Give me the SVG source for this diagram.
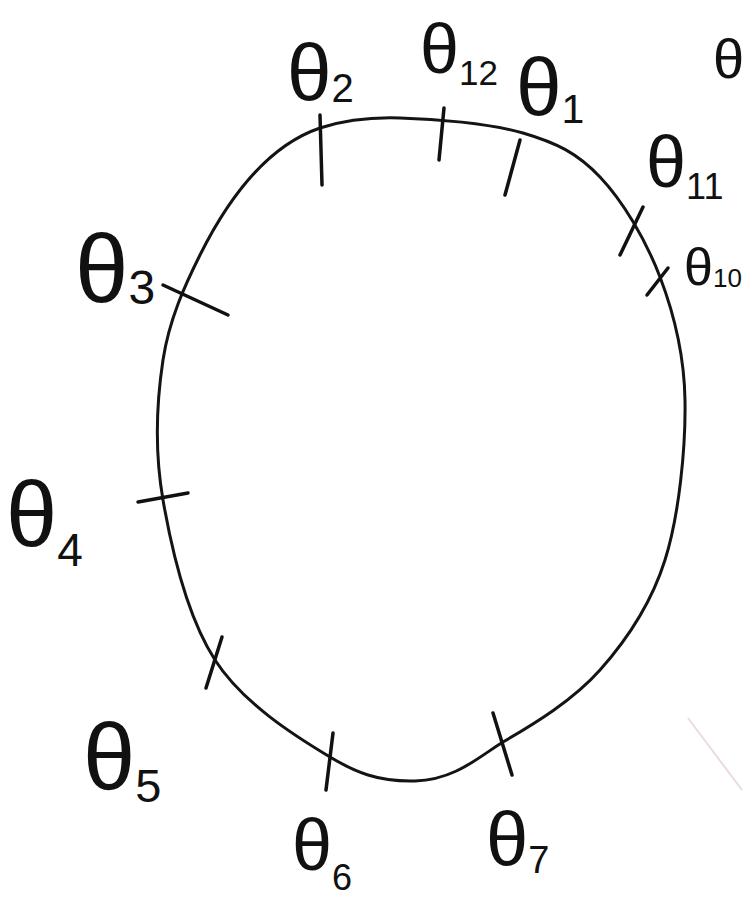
<svg xmlns="http://www.w3.org/2000/svg" width="746" height="899" viewBox="0 0 746 899">
<style>
.curve{fill:none;stroke:#141414;stroke-width:3;stroke-linecap:round}
.tick{stroke:#111;stroke-width:3.5;stroke-linecap:round;fill:none}
.lbl{font-family:"Liberation Sans","DejaVu Sans",sans-serif;fill:#111}
.sub{font-size:0.5em}
</style>
<rect width="746" height="899" fill="#fff"/>
<g id="connectors">
<path class="curve" d="M400,118 C433.8,118.8 489.7,123.2 523,133 C556.3,142.8 577.2,153 600,177 C622.8,201 645.8,239.8 660,277 C674.2,314.2 684.2,352.8 685,400 C685.8,447.2 679.2,515 665,560 C650.8,605 627,639.7 600,670 C573,700.3 534.7,723.7 503,742 C480,756 455,780 415,781 C378,782 355,772 330,757 C295,736 242.8,703.3 215,660 C187.2,616.7 171.7,550 163,500 C154.3,450 156.8,400.8 163,360 C169.2,319.2 185,285 200,255 C230,195 270,145 320,128 C345,120 370,117 400,118 Z"/>
<line x1="688" y1="718" x2="742" y2="790" stroke="#eadbe0" stroke-width="2"/>
</g>
<g id="theta1"><line class="tick" x1="520" y1="140" x2="505" y2="195"/><text class="lbl" x="516" y="115" font-size="82">θ<tspan class="sub" dy="8">1</tspan></text></g>
<g id="theta2"><line class="tick" x1="320" y1="115" x2="322" y2="185"/><text class="lbl" x="287" y="100" font-size="80">θ<tspan class="sub" dy="2">2</tspan></text></g>
<g id="theta3"><line class="tick" x1="163" y1="285" x2="228" y2="315"/><text class="lbl" x="75" y="302" font-size="96">θ<tspan class="sub" dy="2">3</tspan></text></g>
<g id="theta4"><line class="tick" x1="138" y1="502" x2="188" y2="493"/><text class="lbl" x="6" y="546" font-size="92">θ<tspan class="sub" dy="20">4</tspan></text></g>
<g id="theta5"><line class="tick" x1="222" y1="637" x2="206" y2="688"/><text class="lbl" x="83" y="790" font-size="94">θ<tspan class="sub" dy="12">5</tspan></text></g>
<g id="theta6"><line class="tick" x1="333" y1="733" x2="326" y2="790"/><text class="lbl" x="292" y="870" font-size="72">θ<tspan class="sub" dy="20">6</tspan></text></g>
<g id="theta7"><line class="tick" x1="493" y1="713" x2="512" y2="775"/><text class="lbl" x="486" y="865" font-size="76">θ<tspan class="sub" dy="8">7</tspan></text></g>
<g id="theta8"><text class="lbl" x="713" y="78" font-size="56">θ</text></g>
<g id="theta10"><line class="tick" x1="668" y1="268" x2="647" y2="295"/><text class="lbl" x="684" y="285" font-size="52">θ<tspan class="sub" dy="2">10</tspan></text></g>
<g id="theta11"><line class="tick" x1="643" y1="207" x2="620" y2="255"/><text class="lbl" x="646" y="187" font-size="72">θ<tspan class="sub" dy="12">11</tspan></text></g>
<g id="theta12"><line class="tick" x1="444" y1="108" x2="439" y2="160"/><text class="lbl" x="420" y="73" font-size="70">θ<tspan class="sub" dy="12">12</tspan></text></g>
</svg>
